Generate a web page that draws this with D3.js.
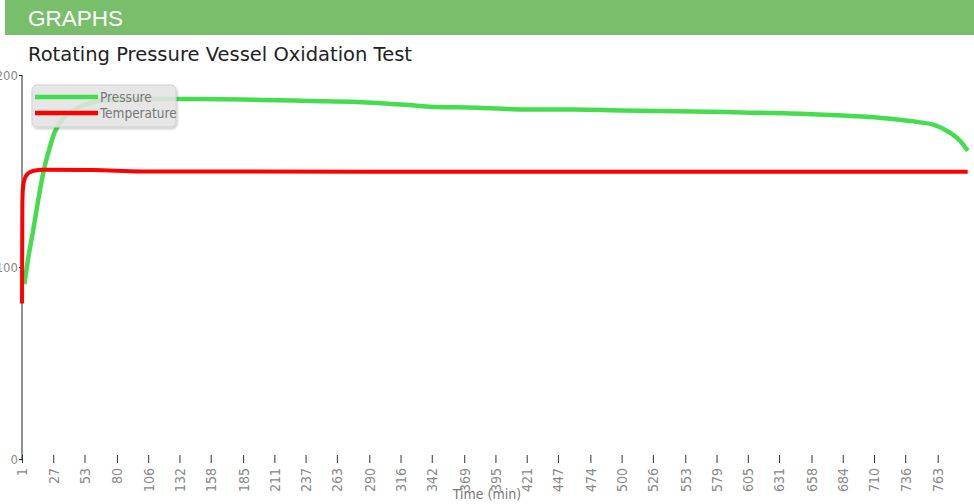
<!DOCTYPE html>
<html>
<head>
<meta charset="utf-8">
<script src="https://cdn.jsdelivr.net/npm/d3@7"></script>
<style>
  body { margin: 0; background: #fff; }
  .cond { font-family: "Liberation Sans Narrow", "DejaVu Sans Condensed", sans-serif; font-stretch: condensed; }
</style>
</head>
<body>
<svg id="chart" width="974" height="504"></svg>
<script>
(function() {
  var svg, x, y, line, defs, legend, i;

  // minutes, readings taken off the original plot
  var pressureMin = [3, 6, 10, 14, 19, 24, 28, 36, 45, 58, 75, 100, 150, 200, 240, 280, 320, 340, 380, 420, 460, 500, 560, 600, 640, 680, 710, 740, 760, 773, 782, 788];
  var pressureVal = [91, 104, 118, 133, 150, 162, 170, 178, 182, 185.5, 187, 187.5, 187.5, 187, 186.5, 186, 184.5, 183.5, 183, 182, 182, 181.5, 181, 180.5, 180, 179, 178, 176, 174, 170, 165.5, 160.5];
  var tempMin = [1, 1.3, 1.8, 3, 5, 8, 12, 18, 60, 100, 300, 500, 788];
  var tempVal = [81, 133, 141, 145.5, 148, 149.5, 150.3, 150.6, 150.5, 149.8, 149.6, 149.6, 149.6];
  var xTicks = [1, 27, 53, 80, 106, 132, 158, 185, 211, 237, 263, 290, 316, 342, 369, 395, 421, 447, 474, 500, 526, 553, 579, 605, 631, 658, 684, 710, 736, 763];
  var yTicks = [0, 100, 200];
  var seriesNames = ["Pressure", "Temperature"];
  var seriesColors = ["#45dd4f", "#ff0000"];

  svg = d3.select("#chart");
  defs = svg.append("defs");
  var shadow = defs.append("filter").attr("id", "shadow").attr("x", "-10%").attr("y", "-10%").attr("width", "130%").attr("height", "140%");
  shadow.append("feDropShadow").attr("dx", 1).attr("dy", 1.5).attr("stdDeviation", 1.2).attr("flood-color", "#000").attr("flood-opacity", 0.25);

  // header band
  svg.append("rect").attr("x", 5).attr("y", 0).attr("width", 969).attr("height", 35).style("fill", "#79bf6b");
  svg.append("text").attr("x", 28).attr("y", 26).text("GRAPHS")
    .style("font-family", "'Liberation Sans', Arial, sans-serif").style("font-size", "22.5px").style("fill", "#fff");

  svg.append("text").attr("x", 28).attr("y", 61).text("Rotating Pressure Vessel Oxidation Test")
    .style("font-family", "'DejaVu Sans', Verdana, sans-serif").style("font-size", "19.5px").style("fill", "#222");

  x = d3.scaleLinear().domain([1, 788]).range([22, 967.7]);
  y = d3.scaleLinear().domain([0, 200]).range([459, 75]);

  // y axis
  var yAxis = svg.append("g").attr("transform", "translate(22,0)")
    .call(d3.axisLeft(y).tickValues(yTicks).tickSize(3).tickPadding(1));
  yAxis.select(".domain").attr("d", "M0," + y(200) + "V" + y(0)).style("stroke", "#222");
  yAxis.selectAll(".tick line").style("stroke", "#222");
  yAxis.selectAll("text").attr("class", "cond").style("font-size", "13px").style("fill", "#888");

  // x axis
  var xAxis = svg.append("g").attr("transform", "translate(0," + y(0) + ")")
    .call(d3.axisBottom(x).tickValues(xTicks).tickSize(4).tickFormat(d3.format("d")));
  xAxis.select(".domain").attr("d", "M22,0.5H970").style("stroke", "#555").style("stroke-width", 2).attr("filter", "url(#shadow)");
  xAxis.selectAll(".tick line").attr("y1", -4).attr("y2", 4).style("stroke", "#333");
  xAxis.selectAll("text").attr("class", "cond")
    .attr("transform", "rotate(-90)").attr("x", -9).attr("y", 0).attr("dy", "0.35em")
    .style("text-anchor", "end").style("font-size", "14px").style("fill", "#888");

  svg.append("text").attr("class", "cond").attr("x", 487).attr("y", 499).attr("text-anchor", "middle")
    .text("Time (min)").style("font-size", "14px").style("fill", "#777");

  line = d3.line().curve(d3.curveMonotoneX)
    .x(function(d) { return x(d[0]); })
    .y(function(d) { return y(d[1]); });

  var pressure = [], temperature = [];
  for (i = 0; i < pressureMin.length; i++) pressure.push([pressureMin[i], pressureVal[i]]);
  for (i = 0; i < tempMin.length; i++) temperature.push([tempMin[i], tempVal[i]]);

  svg.append("path").datum(pressure).attr("d", line)
    .style("fill", "none").style("stroke", seriesColors[0]).style("stroke-width", 4.5);
  svg.append("path").datum(temperature).attr("d", line)
    .style("fill", "none").style("stroke", seriesColors[1]).style("stroke-width", 4);

  // legend
  legend = svg.append("g").attr("transform", "translate(32,85)");
  legend.append("rect").attr("width", 144).attr("height", 42).attr("rx", 5)
    .style("fill", "#e6e6e6").style("fill-opacity", 0.85).style("stroke", "#d0d0d0").attr("filter", "url(#shadow)");
  legend.selectAll("g.item").data(seriesNames).enter().append("g").attr("class", "item")
    .attr("transform", function(d, k) { return "translate(0," + (12 + k * 16) + ")"; })
    .each(function(d, k) {
      var g = d3.select(this);
      g.append("line").attr("x1", 3).attr("x2", 66).attr("y1", 0).attr("y2", 0)
        .style("stroke", seriesColors[k]).style("stroke-width", 4.5);
      g.append("text").attr("class", "cond").attr("x", 68).attr("y", 5).text(d)
        .style("font-size", "13.5px").style("fill", "#777");
    });
}).call(this);
</script>
</body>
</html>
